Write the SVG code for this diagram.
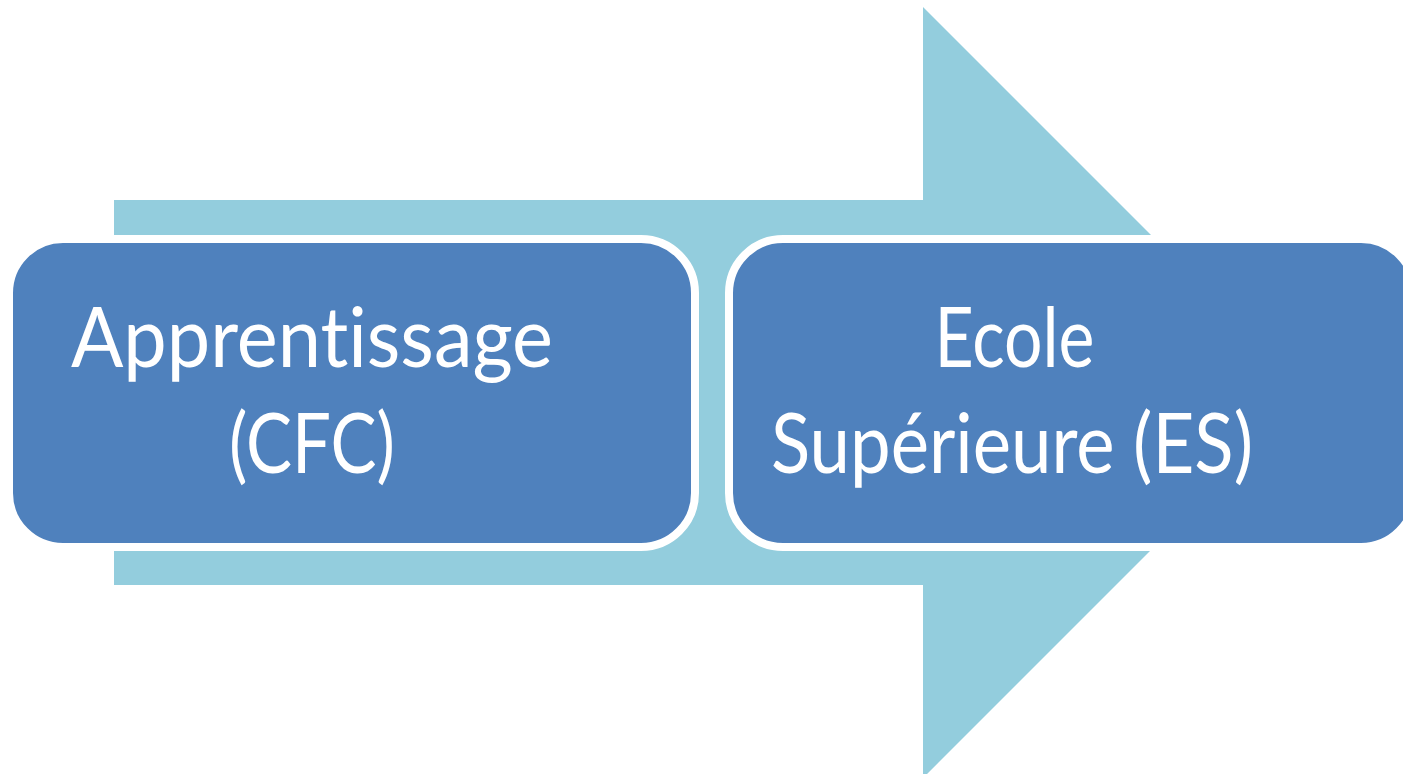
<svg xmlns="http://www.w3.org/2000/svg" width="1403" height="774" viewBox="0 0 1403 774">
  <style>
    .arrow { fill: #93CDDD; }
    .box { fill: #4F81BD; stroke: #FFFFFF; stroke-width: 8; }
    .label { font-family: Lato, "Open Sans", sans-serif; font-size: 84px; fill: #FFFFFF; text-anchor: middle; font-variant-ligatures: none; font-feature-settings: "liga" 0, "clig" 0; }
  </style>
  <rect width="1403" height="774" fill="#FFFFFF"/>
  <g id="connectors">
    <polygon class="arrow" points="114,200 923,200 923,7 1308.5,392.5 923,778 923,585 114,585"/>
  </g>
  <g id="node-apprentissage">
    <rect class="box" x="9" y="239" width="686" height="308" rx="54" ry="54"/>
    <text class="label" x="312" y="367" textLength="482" lengthAdjust="spacingAndGlyphs">Apprentissage</text>
    <text class="label" x="312" y="473" textLength="166" lengthAdjust="spacingAndGlyphs">(CFC)</text>
  </g>
  <g id="node-ecole">
    <rect class="box" x="729" y="239" width="686" height="308" rx="54" ry="54"/>
    <text class="label" x="1014.5" y="367" textLength="160" lengthAdjust="spacingAndGlyphs">Ecole</text>
    <text class="label" x="1012" y="473" textLength="482" lengthAdjust="spacingAndGlyphs">Supérieure (ES)</text>
  </g>
</svg>
